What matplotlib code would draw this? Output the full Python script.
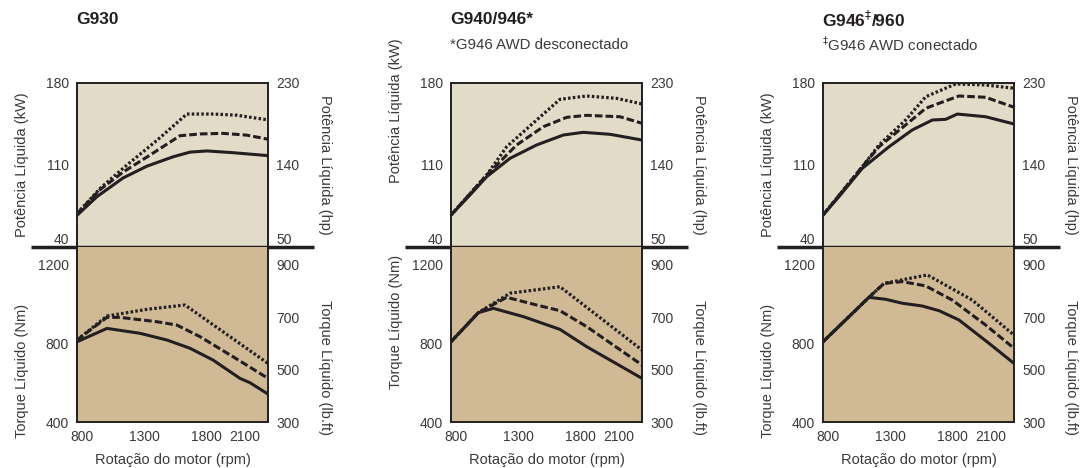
import matplotlib
matplotlib.use('Agg')
import matplotlib.pyplot as plt

plt.rcParams['font.family'] = ['Liberation Sans', 'DejaVu Sans']

# engine speed limits of the charts (rpm)
rpm_lim = (760, 2290)
rpm_ticks = [800, 1300, 1800, 2100]

# G930 - net power (kW)
g930_pw_rpm_a = [760, 920, 1130, 1320, 1530, 1665, 1800, 2010, 2290]
g930_pw_a = [67, 83, 99, 109, 117, 121, 122, 120.5, 118]
g930_pw_rpm_b = [760, 945, 1130, 1345, 1585, 1745, 1930, 2120, 2290]
g930_pw_b = [68.5, 89, 104, 118.5, 135, 136.5, 137, 135.5, 132]
g930_pw_rpm_c = [760, 945, 1160, 1400, 1640, 1850, 2040, 2290]
g930_pw_c = [68.5, 90, 110, 131, 153.5, 153.5, 152.5, 148.5]
# G930 - net torque (Nm)
g930_tq_rpm_a = [760, 1000, 1265, 1480, 1665, 1850, 2065, 2145, 2290]
g930_tq_a = [808, 876, 851, 817, 775, 715, 622, 600, 542]
g930_tq_rpm_b = [760, 1000, 1105, 1400, 1560, 1745, 2010, 2290]
g930_tq_b = [817, 932, 932, 910, 893, 834, 732, 622]
g930_tq_rpm_c = [760, 1000, 1320, 1625, 2290]
g930_tq_c = [817, 939, 973, 995, 698]

# G940/946 - net power (kW)
g940_pw_rpm_a = [760, 912, 1046, 1233, 1446, 1660, 1820, 2034, 2290]
g940_pw_a = [67.3, 84.4, 100, 115.7, 127.1, 135.6, 137.9, 136.2, 131.3]
g940_pw_rpm_b = [760, 1046, 1286, 1500, 1687, 1847, 2114, 2290]
g940_pw_b = [67.3, 101.5, 127.1, 142.7, 150.7, 152.4, 151.2, 145.6]
g940_pw_rpm_c = [760, 1046, 1206, 1446, 1633, 1847, 2087, 2290]
g940_pw_c = [67.3, 101.5, 125.6, 148.4, 166.1, 168.9, 166.9, 162.1]
# G940/946 - net torque (Nm)
g940_tq_rpm_a = [760, 979, 1099, 1339, 1633, 1847, 2290]
g940_tq_a = [808, 956, 978, 936, 871, 783, 622]
g940_tq_rpm_b = [760, 979, 1206, 1446, 1633, 1847, 2290]
g940_tq_b = [808, 956, 1034, 995, 966, 885, 690]
g940_tq_rpm_c = [760, 979, 1233, 1633, 2290]
g940_tq_c = [808, 956, 1055, 1088, 766]

# G946/960 - net power (kW)
g960_pw_rpm_a = [760, 888, 1075, 1289, 1475, 1636, 1743, 1836, 2063, 2290]
g960_pw_a = [67.3, 83, 107.2, 125.6, 139.9, 148.4, 149, 153.5, 151.2, 145]
g960_pw_rpm_b = [760, 1075, 1209, 1422, 1583, 1690, 1849, 2063, 2290]
g960_pw_b = [67.3, 108.6, 125.6, 144.2, 158.4, 162.7, 168.9, 167.8, 159.3]
g960_pw_rpm_c = [760, 1075, 1209, 1422, 1583, 1823, 2063, 2290]
g960_pw_c = [67.3, 108.6, 127.1, 148.4, 168.3, 179.2, 178.3, 175.5]
# G946/960 - net torque (Nm)
g960_tq_rpm_a = [760, 1128, 1262, 1395, 1555, 1690, 1849, 2090, 2290]
g960_tq_a = [808, 1034, 1024, 1004, 990, 966, 919, 800, 698]
g960_tq_rpm_b = [760, 1128, 1249, 1395, 1583, 1796, 2063, 2290]
g960_tq_b = [808, 1034, 1105, 1114, 1092, 1020, 893, 775]
g960_tq_rpm_c = [760, 1128, 1249, 1596, 1956, 2290]
g960_tq_c = [808, 1034, 1105, 1148, 1020, 842]

titles = ['G930', 'G940/946*', r'G946$^{\ddag}$/960']
subtitles = ['', '*G946 AWD desconectado', r'$^{\ddag}$G946 AWD conectado']

W, H = 1089, 468
ink = '#231f20'
txt = '#3a3a3a'
bg_top = '#e2dbc8'
bg_bot = '#d0ba96'

styles = [dict(ls='-', lw=2.2),
          dict(ls=(0, (2.5, 1.0)), lw=2.2),
          dict(ls=(0, (0.8, 0.7)), lw=2.3)]

fig = plt.figure(figsize=(W / 100, H / 100), dpi=100)


def panel(left, title, subtitle, pw, tq, pw_lab_y, tq_lab_y):
    ax_p = fig.add_axes([left / W, (H - 247) / H, 191 / W, 164 / H])
    ax_t = fig.add_axes([left / W, (H - 422) / H, 191 / W, 175 / H])
    ax_p.set_facecolor(bg_top)
    ax_t.set_facecolor(bg_bot)

    for (x, y), st in zip(pw[::-1], styles[::-1]):
        ax_p.plot(x, y, color=ink, solid_capstyle='butt', dash_capstyle='butt', **st)
    for (x, y), st in zip(tq[::-1], styles[::-1]):
        ax_t.plot(x, y, color=ink, solid_capstyle='butt', dash_capstyle='butt', **st)

    ax_p.set_xlim(rpm_lim)
    ax_t.set_xlim(rpm_lim)
    ax_p.set_ylim(40, 180)
    ax_t.set_ylim(400, 1290)
    ax_p.set_xticks([])
    ax_t.set_xticks(rpm_ticks, labels=[str(v) for v in rpm_ticks])
    ax_p.set_yticks([40, 110, 180], labels=['40', '110', '180'])
    ax_t.set_yticks([400, 800, 1200], labels=['400', '800', '1200'])

    r_p = ax_p.twinx()
    r_p.set_ylim(50, 230)
    r_p.set_yticks([50, 140, 230], labels=['50', '140', '230'])
    r_t = ax_t.twinx()
    r_t.set_ylim(300, 300 + 890 * 0.75)
    r_t.set_yticks([300, 500, 700, 900], labels=['300', '500', '700', '900'])

    for a in (ax_p, ax_t, r_p, r_t):
        a.tick_params(length=0, pad=6, labelsize=10, labelcolor=txt)
        for s in a.spines.values():
            s.set_color(ink)
            s.set_linewidth(1.2)
    for a in (ax_p, r_p):
        a.spines['bottom'].set_visible(False)
    for a in (ax_t, r_t):
        a.spines['top'].set_visible(False)

    for lbl in ax_p.get_yticklabels() + r_p.get_yticklabels():
        if lbl.get_text() in ('40', '50'):
            lbl.set_va('bottom')

    ax_p.set_ylabel('Potência Líquida (kW)', fontsize=10.5, color=txt)
    r_p.set_ylabel('Potência Líquida (hp)', fontsize=10.5, color=txt, rotation=270)
    ax_t.set_ylabel('Torque Líquido (Nm)', fontsize=10.5, color=txt)
    r_t.set_ylabel('Torque Líquido (lb.ft)', fontsize=10.5, color=txt, rotation=270)
    ax_t.set_xlabel('Rotação do motor (rpm)', fontsize=10.5, color=txt)

    ax_p.yaxis.set_label_coords(-0.29, pw_lab_y)
    r_p.yaxis.set_label_coords(1.30, 0.5)
    ax_t.yaxis.set_label_coords(-0.29, tq_lab_y)
    r_t.yaxis.set_label_coords(1.30, 0.31)
    ax_t.xaxis.set_label_coords(0.5, -0.217)
    for a in (ax_p, r_p, ax_t, r_t):
        a.yaxis.label.set_va('center')
        a.yaxis.label.set_ha('center')
    ax_t.xaxis.label.set_va('center')

    # thick separator between power and torque
    ax_p.plot([-0.241, 1.241], [0, 0], transform=ax_p.transAxes, color=ink,
              lw=2.5, clip_on=False, solid_capstyle='butt')

    fig.text((left - 1) / W, 1 - 20 / H, title, fontsize=12.5, fontweight='bold',
             color=ink, va='center', ha='left')
    if subtitle:
        fig.text((left - 1) / W, 1 - 45 / H, subtitle, fontsize=10.8, color=txt,
                 va='center', ha='left')


panel(77, titles[0], subtitles[0],
      [(g930_pw_rpm_a, g930_pw_a), (g930_pw_rpm_b, g930_pw_b), (g930_pw_rpm_c, g930_pw_c)],
      [(g930_tq_rpm_a, g930_tq_a), (g930_tq_rpm_b, g930_tq_b), (g930_tq_rpm_c, g930_tq_c)],
      0.5, 0.29)
panel(451, titles[1], subtitles[1],
      [(g940_pw_rpm_a, g940_pw_a), (g940_pw_rpm_b, g940_pw_b), (g940_pw_rpm_c, g940_pw_c)],
      [(g940_tq_rpm_a, g940_tq_a), (g940_tq_rpm_b, g940_tq_b), (g940_tq_rpm_c, g940_tq_c)],
      0.83, 0.57)
panel(823, titles[2], subtitles[2],
      [(g960_pw_rpm_a, g960_pw_a), (g960_pw_rpm_b, g960_pw_b), (g960_pw_rpm_c, g960_pw_c)],
      [(g960_tq_rpm_a, g960_tq_a), (g960_tq_rpm_b, g960_tq_b), (g960_tq_rpm_c, g960_tq_c)],
      0.5, 0.29)

fig.savefig('out.png', dpi=100, facecolor='white')
